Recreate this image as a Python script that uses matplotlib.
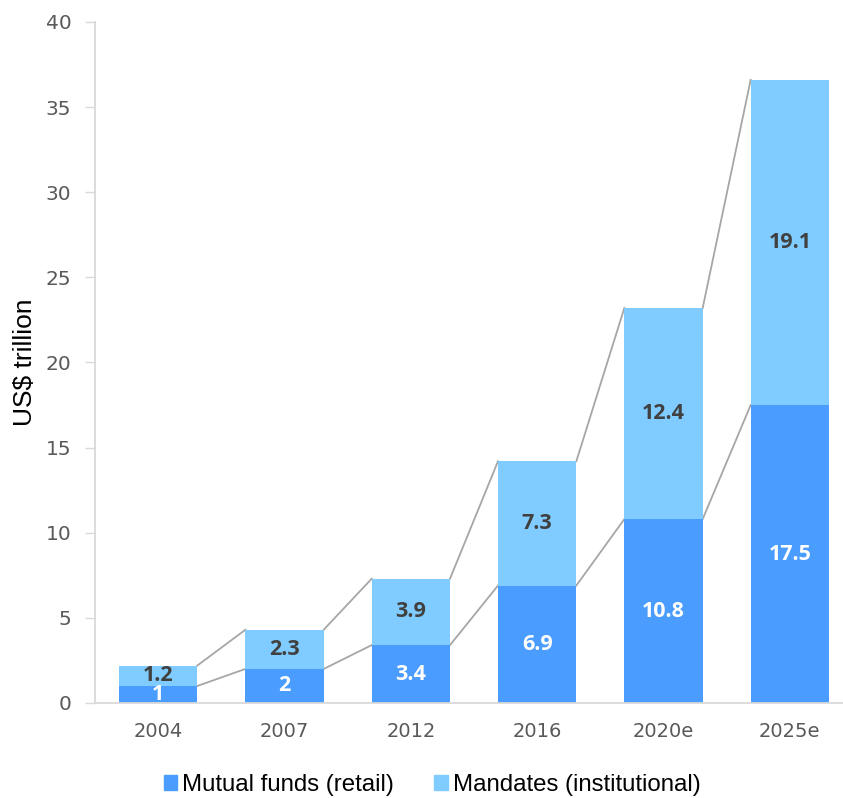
import matplotlib
matplotlib.use("Agg")
import matplotlib.pyplot as plt
from matplotlib.patches import Patch

years = ["2004", "2007", "2012", "2016", "2020e", "2025e"]
retail = [1, 2, 3.4, 6.9, 10.8, 17.5]
mandates = [1.2, 2.3, 3.9, 7.3, 12.4, 19.1]
retail_labels = ["1", "2", "3.4", "6.9", "10.8", "17.5"]
mandate_labels = ["1.2", "2.3", "3.9", "7.3", "12.4", "19.1"]

c_retail = "#4b9cff"
c_mand = "#80cbff"
c_line = "#a6a6a6"
w = 0.62

fig = plt.figure(figsize=(8.43, 7.98), dpi=100)
ax = fig.add_axes([95 / 843, 95 / 798, 758 / 843, 681 / 798])

x = list(range(len(years)))
totals = [r + m for r, m in zip(retail, mandates)]
ax.bar(x, retail, width=w, color=c_retail, zorder=2)
ax.bar(x, mandates, width=w, bottom=retail, color=c_mand, zorder=2)

# connector lines between bar tops
for i in range(len(x) - 1):
    for top in (retail, totals):
        ax.plot([x[i] + w / 2, x[i + 1] - w / 2], [top[i], top[i + 1]],
                color=c_line, lw=1.3, zorder=1)

lab_font = dict(fontsize=15.5, fontweight="bold", family="Open Sans",
                ha="center", va="center", zorder=3)
for i in x:
    ax.text(x[i], retail[i] / 2, retail_labels[i], color="white", **lab_font)
    ax.text(x[i], retail[i] + mandates[i] / 2, mandate_labels[i],
            color="#404040", **lab_font)

ax.set_xlim(-0.5, 5.5)
ax.set_ylim(0, 40)
ax.set_yticks(range(0, 41, 5))
ax.set_xticks(x)
ax.set_xticklabels(years)
ax.tick_params(axis="x", length=0, pad=14, labelsize=14, colors="#595959")
ax.tick_params(axis="y", length=7, width=1, color="#d9d9d9", pad=10,
               labelsize=14.5, labelcolor="#595959")
for s in ("top", "right"):
    ax.spines[s].set_visible(False)
for s in ("left", "bottom"):
    ax.spines[s].set_color("#d9d9d9")
    ax.spines[s].set_linewidth(1.3)
ax.set_ylabel("US$ trillion", fontsize=19, family="Liberation Sans", labelpad=6)

handles = [Patch(color=c_retail, label="Mutual funds (retail)"),
           Patch(color=c_mand, label="Mandates (institutional)")]
fig.legend(handles=handles, loc="center", bbox_to_anchor=(432 / 843, 1 - 785 / 798),
           ncol=2, frameon=False, handlelength=0.55, handleheight=0.55,
           handletextpad=0.2, columnspacing=1.7,
           prop={"family": "Liberation Sans", "size": 17.3})

fig.savefig("out.png", dpi=100)
